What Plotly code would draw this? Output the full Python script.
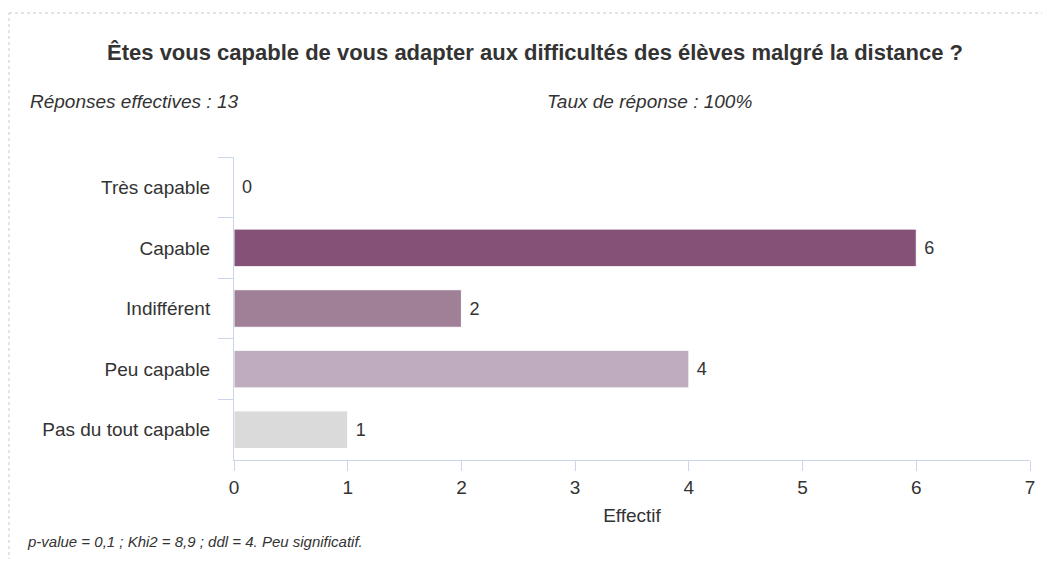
import plotly.graph_objects as go

# survey answers, top to bottom as shown
categories = ["Très capable", "Capable", "Indifférent", "Peu capable", "Pas du tout capable"]
counts = [0, 6, 2, 4, 1]
bar_colors = ["#8a5a80", "#845177", "#a08096", "#bfadbf", "#dadada"]
x_ticks = [0, 1, 2, 3, 4, 5, 6, 7]

title_text = "Êtes vous capable de vous adapter aux difficultés des élèves malgré la distance ?"
resp_text = "Réponses effectives : 13"
rate_text = "Taux de réponse : 100%"
stats_text = "p-value = 0,1 ; Khi2 = 8,9 ; ddl = 4. Peu significatif."

font_family = "Liberation Sans, Arial, sans-serif"
color_lines = "#ccd6eb"
color_text = "#333333"

# the page body adds 8px around the figure, so the figure is a bit smaller
# than the window and the plot area is placed 8px up/left
fig = go.Figure(
    go.Bar(
        x=counts,
        y=categories,
        orientation="h",
        marker=dict(color=bar_colors, line=dict(color="#ffffff", width=1)),
        text=[" " + str(c) for c in counts],
        textposition="outside",
        textfont=dict(size=18, color=color_text, family=font_family),
        cliponaxis=False,
        width=0.62,
    )
)

fig.update_layout(
    width=1034,
    height=551,
    margin=dict(l=226, r=12, t=149, b=99),
    plot_bgcolor="#fff",
    paper_bgcolor="#fff",
    showlegend=False,
    font=dict(family=font_family, color=color_text, size=19),
    title=dict(
        text="<b>" + title_text + "</b>",
        x=527 / 1034,
        xanchor="center",
        y=1 - 44 / 551,
        yref="container",
        yanchor="middle",
        font=dict(size=22, color="#333333"),
    ),
)

fig.update_xaxes(
    range=[0, 7],
    tickvals=x_ticks,
    ticks="outside",
    ticklen=10,
    tickcolor=color_lines,
    showline=True,
    linecolor=color_lines,
    showgrid=False,
    zeroline=False,
    automargin=False,
    tickfont=dict(size=19, color=color_text),
    title=dict(text="Effectif", font=dict(size=19, color=color_text), standoff=11),
    ticklabelstandoff=0,
)

fig.update_yaxes(
    categoryorder="array",
    categoryarray=categories,
    autorange="reversed",
    tickson="boundaries",
    ticks="outside",
    ticklen=15,
    tickcolor=color_lines,
    showline=True,
    linecolor=color_lines,
    showgrid=False,
    automargin=False,
    tickfont=dict(size=19, color=color_text),
    ticklabelstandoff=19,
)

# subtitle and footer notes, placed by screen pixel
notes = [
    (28, 102, resp_text, 19),
    (545, 102, rate_text, 19),
    (25, 541, stats_text, 15),
]
for sx, sy, txt, fs in notes:
    fig.add_annotation(
        x=(sx - 234) / 796, y=(460 - sy) / 303, xref="paper", yref="paper",
        text="<i>" + txt + "</i>", showarrow=False,
        xanchor="left", yanchor="middle",
        font=dict(size=fs, color=color_text),
    )

# dotted frame of the chart container, only top and left sides show
frame_x0 = (9 - 234) / 796
frame_y1 = (460 - 13) / 303
fig.add_shape(
    type="line", xref="paper", yref="paper",
    x0=frame_x0, x1=(1050 - 234) / 796, y0=frame_y1, y1=frame_y1,
    line=dict(color="#c8c8c8", width=1, dash="dot"),
)
fig.add_shape(
    type="line", xref="paper", yref="paper",
    x0=frame_x0, x1=frame_x0, y0=(460 - 567) / 303, y1=frame_y1,
    line=dict(color="#c8c8c8", width=1, dash="dot"),
)

fig.write_html("out.html")
